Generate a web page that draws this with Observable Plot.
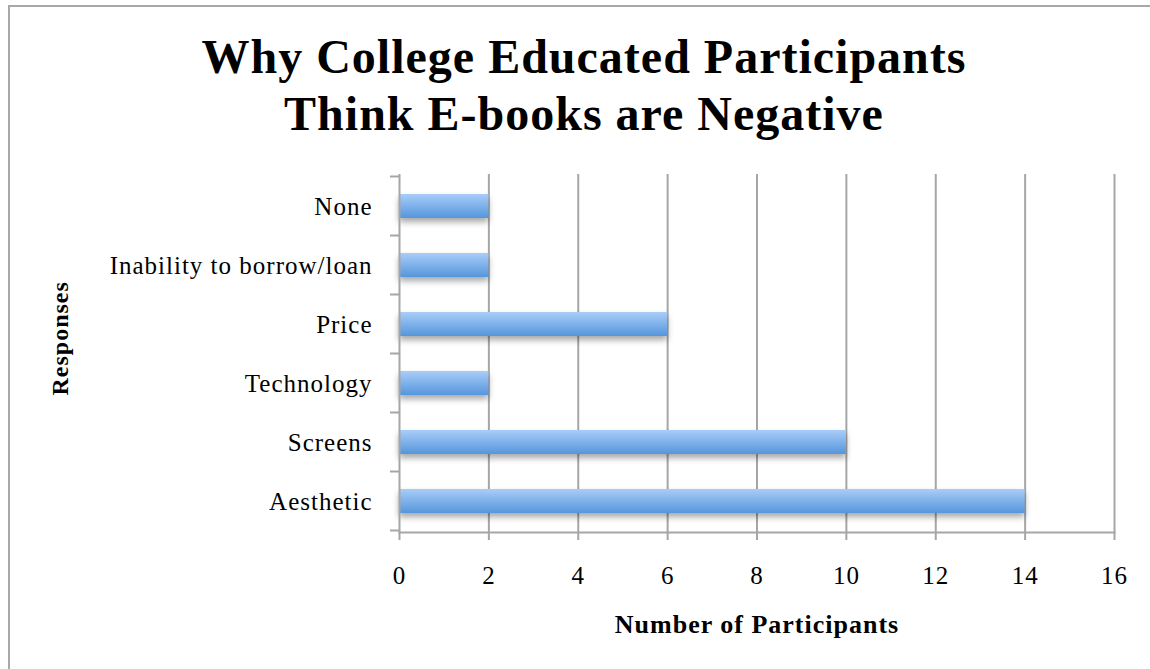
<!DOCTYPE html>
<html>
<head>
<meta charset="utf-8">
<script src="https://cdn.jsdelivr.net/npm/d3@7"></script>
<script src="https://cdn.jsdelivr.net/npm/@observablehq/plot@0.6"></script>
<style>
  html, body { margin: 0; padding: 0; background: #fff; }
  #wrap { position: relative; width: 1150px; height: 669px; overflow: hidden; background: #fff; }
  #border { position: absolute; left: 8px; top: 5px; width: 1200px; height: 700px;
            border-top: 2px solid #a8a8a8; border-left: 2px solid #a8a8a8; pointer-events: none; }
  #title { height: 160px; box-sizing: border-box; padding-top: 28px; padding-left: 18px;
           text-align: center; font-family: "Liberation Serif", serif; font-weight: bold;
           font-size: 48px; line-height: 57px; letter-spacing: 1px; color: #000; }
  #chart svg { display: block; }
</style>
</head>
<body>
<div id="wrap">
  <div id="border"></div>
  <div id="title">Why College Educated Participants<br>Think E-books are Negative</div>
  <div id="chart"></div>
</div>
<script>
const categories = ["None", "Inability to borrow/loan", "Price", "Technology", "Screens", "Aesthetic"];
const values = [2, 2, 6, 2, 10, 14];
const xTicks = [0, 2, 4, 6, 8, 10, 12, 14, 16];
const xTitle = "Number of Participants";
const yTitle = "Responses";

const data = categories.map((c, i) => ({response: c, count: values[i]}));
const grey = "#a6a6a6";

const chart = Plot.plot({
  width: 1150,
  height: 509,
  marginTop: 14,
  marginBottom: 137,
  marginLeft: 399,
  marginRight: 36,
  style: {fontFamily: "Liberation Serif, serif", fontSize: "25px", letterSpacing: "1px", background: "transparent", color: "#000"},
  x: {domain: [0, 16]},
  y: {domain: categories, paddingInner: 0.6, paddingOuter: 0.3},
  marks: [
    Plot.gridX(xTicks.filter(d => d > 0), {stroke: grey, strokeOpacity: 1, strokeWidth: 2}),
    Plot.barX(data, {x: "count", y: "response", fill: "url(#barGrad)"}),
    Plot.ruleX([0], {stroke: grey, strokeWidth: 2}),
    Plot.frame({anchor: "bottom", stroke: grey, strokeWidth: 2}),
    Plot.axisX({ticks: xTicks, tickSize: 8, tickPadding: 26, stroke: grey, strokeWidth: 2, fill: "#000", fontSize: 25, label: null}),
    Plot.axisY({tickSize: 0, tickPadding: 27, fill: "#000", fontSize: 25, label: null}),
    Plot.text([xTitle], {text: d => d, frameAnchor: "bottom", dy: 100, fontWeight: "bold", fontSize: 26, fill: "#000"}),
    Plot.text([yTitle], {text: d => d, frameAnchor: "left", dx: -339, dy: 42, rotate: -90, fontWeight: "bold", fontSize: 24, fill: "#000"})
  ]
});

// gradient + shadow for the bars
const svg = d3.select(chart);
const defs = svg.insert("defs", ":first-child");
const g = defs.append("linearGradient").attr("id", "barGrad").attr("x1", 0).attr("y1", 0).attr("x2", 0).attr("y2", 1);
g.append("stop").attr("offset", "0%").attr("stop-color", "#a9cdf8");
g.append("stop").attr("offset", "100%").attr("stop-color", "#5596dc");
svg.select('g[aria-label="bar"]').style("filter", "drop-shadow(0px 4px 3px rgba(0,0,0,0.35))");

// category-boundary ticks on the y axis, from the band scale
const ys = chart.scale("y");
const step = ys.step ?? ys.bandwidth / (1 - 0.6);
const centers = categories.map(c => ys.apply(c) + ys.bandwidth / 2);
const bounds = [centers[0] - step / 2, ...centers.map(c => c + step / 2)];
const tg = svg.append("g").attr("stroke", grey).attr("stroke-width", 2);
bounds.forEach(b => tg.append("line").attr("x1", 399 - 9).attr("x2", 399).attr("y1", b).attr("y2", b));

document.getElementById("chart").appendChild(chart);
</script>
</body>
</html>
